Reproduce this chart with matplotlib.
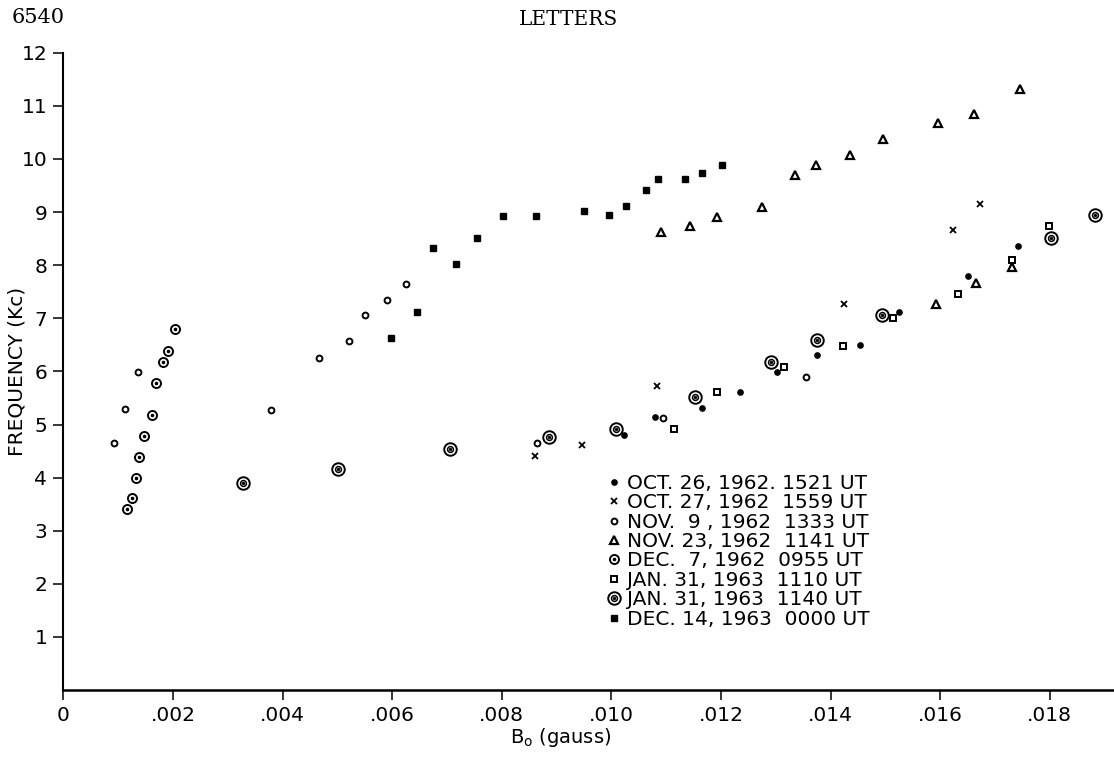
import matplotlib
matplotlib.use('Agg')
import matplotlib.pyplot as plt

# data (B0 in gauss, frequency in kc)
oct26_b = [0.01023, 0.01079, 0.01165, 0.01234, 0.01302, 0.01375, 0.01453, 0.01525, 0.01651, 0.01741]
oct26_f = [4.80, 5.14, 5.31, 5.61, 5.98, 6.30, 6.50, 7.11, 7.80, 8.37]

oct27_b = [0.00861, 0.00946, 0.01083, 0.01424, 0.01624, 0.01672]
oct27_f = [4.41, 4.61, 5.72, 7.27, 8.66, 9.15]

nov9_b = [0.000925, 0.00112, 0.00136, 0.00379, 0.00466, 0.00521, 0.00551, 0.00591, 0.00626, 0.00864, 0.01094, 0.01355]
nov9_f = [4.66, 5.30, 5.98, 5.27, 6.25, 6.58, 7.06, 7.35, 7.65, 4.66, 5.12, 5.89]

nov23_b = [0.01091, 0.01144, 0.01193, 0.01274, 0.01335, 0.01374, 0.01435, 0.01495, 0.01595, 0.01662, 0.01745, 0.01593, 0.01666, 0.01731]
nov23_f = [8.62, 8.73, 8.90, 9.10, 9.69, 9.88, 10.08, 10.38, 10.67, 10.85, 11.32, 7.27, 7.67, 7.97]

dec7_b = [0.00116, 0.00125, 0.00132, 0.00138, 0.00148, 0.00162, 0.00169, 0.00181, 0.00191, 0.00204]
dec7_f = [3.40, 3.61, 3.99, 4.38, 4.79, 5.18, 5.78, 6.18, 6.39, 6.79]

jan31a_b = [0.01115, 0.01192, 0.01315, 0.01422, 0.01513, 0.01632, 0.01731, 0.01799]
jan31a_f = [4.91, 5.61, 6.09, 6.48, 7.00, 7.45, 8.09, 8.74]

jan31b_b = [0.00327, 0.00501, 0.00706, 0.00887, 0.01009, 0.01153, 0.01291, 0.01375, 0.01493, 0.01802, 0.01883]
jan31b_f = [3.90, 4.16, 4.54, 4.76, 4.92, 5.51, 6.18, 6.60, 7.06, 8.52, 8.94]

dec14_b = [0.00597, 0.00645, 0.00674, 0.00717, 0.00755, 0.00803, 0.00863, 0.00950, 0.00996, 0.01026, 0.01063, 0.01085, 0.01135, 0.01165, 0.01201]
dec14_f = [6.62, 7.11, 8.33, 8.02, 8.52, 8.93, 8.93, 9.02, 8.94, 9.12, 9.42, 9.62, 9.62, 9.73, 9.88]

labels = ["OCT. 26, 1962. 1521 UT",
          "OCT. 27, 1962  1559 UT",
          "NOV.  9 , 1962  1333 UT",
          "NOV. 23, 1962  1141 UT",
          "DEC.  7, 1962  0955 UT",
          "JAN. 31, 1963  1110 UT",
          "JAN. 31, 1963  1140 UT",
          "DEC. 14, 1963  0000 UT"]

xticks = [0, 0.002, 0.004, 0.006, 0.008, 0.010, 0.012, 0.014, 0.016, 0.018]
xticklabels = ["0", ".002", ".004", ".006", ".008", ".010", ".012", ".014", ".016", ".018"]
yticks = list(range(1, 13))

plt.rcParams['font.family'] = ['DejaVu Sans']

W, H = 1114, 761
fig = plt.figure(figsize=(W / 100, H / 100), dpi=100)
ax = fig.add_axes([63.3 / W, 1 - 690 / H, (W - 63.3) / W, (690 - 52.8) / H])

k = dict(linestyle='none', color='black', mec='black')

h1, = ax.plot(oct26_b, oct26_f, marker='o', ms=3.8, **k)
h2, = ax.plot(oct27_b, oct27_f, marker='x', ms=4.5, mew=1.3, **k)
h3, = ax.plot(nov9_b, nov9_f, marker='o', ms=4.2, mfc='white', mew=1.4, **k)
h4, = ax.plot(nov23_b, nov23_f, marker='^', ms=6.0, mfc='white', mew=1.6, **k)
h5a, = ax.plot(dec7_b, dec7_f, marker='o', ms=6.5, mfc='white', mew=1.4, **k)
h5b, = ax.plot(dec7_b, dec7_f, marker='o', ms=1.6, **k)
h6, = ax.plot(jan31a_b, jan31a_f, marker='s', ms=4.0, mfc='white', mew=1.4, **k)
h7a, = ax.plot(jan31b_b, jan31b_f, marker='o', ms=9.0, mfc='white', mew=1.4, **k)
h7b, = ax.plot(jan31b_b, jan31b_f, marker='o', ms=4.2, mfc='white', mew=1.1, **k)
h7c, = ax.plot(jan31b_b, jan31b_f, marker='o', ms=1.4, **k)
h8, = ax.plot(dec14_b, dec14_f, marker='s', ms=4.6, **k)

handles = [h1, h2, h3, h4, (h5a, h5b), h6, (h7a, h7b, h7c), h8]
ax.legend(handles, labels, loc='upper left', bbox_to_anchor=(0.00972, 4.26),
          bbox_transform=ax.transData, frameon=False, fontsize=14.5,
          handlelength=0.75, handletextpad=0.3, labelspacing=0.02, borderpad=0)

ax.set_xlim(0, 0.01917)
ax.set_ylim(0, 12)
ax.set_xticks(xticks)
ax.set_xticklabels(xticklabels)
ax.set_yticks(yticks)
ax.tick_params(direction='out', length=7.5, width=1.1, labelsize=14.5, pad=4)
ax.spines['top'].set_visible(False)
ax.spines['right'].set_visible(False)
ax.spines['left'].set_linewidth(1.5)
ax.spines['bottom'].set_linewidth(1.8)

ax.set_ylabel("FREQUENCY (Kc)", fontsize=14.5)
ax.yaxis.set_label_coords(-0.0355, 0.5)
ax.set_xlabel(r"B$_\mathregular{o}$ (gauss)", fontsize=14)
ax.xaxis.set_label_coords((561 - 63.3) / (W - 63.3), -0.056)

fig.text(12 / W, 1 - 8 / H, "6540", family='DejaVu Serif', fontsize=15, va='top', ha='left')
fig.text(569 / W, 1 - 10 / H, "LETTERS", family='DejaVu Serif', fontsize=14.5, va='top', ha='center')

fig.savefig("out.png", dpi=100)
